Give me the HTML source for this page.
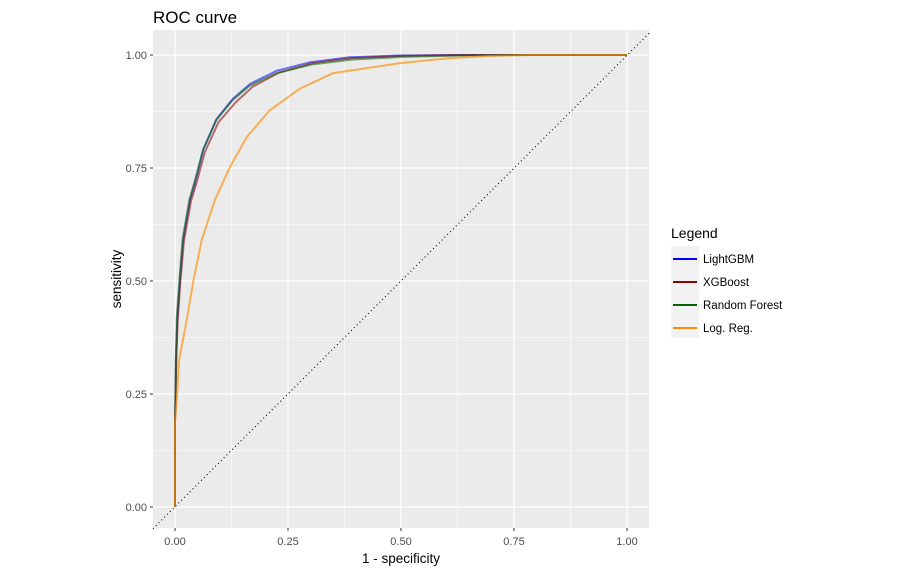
<!DOCTYPE html>
<html><head><meta charset="utf-8"><style>
body{margin:0;background:#fff;font-family:"Liberation Sans",Arial,sans-serif}
</style></head><body>
<svg width="899" height="574" font-family="Liberation Sans, Arial, sans-serif">
<text x="153" y="23" font-size="17" fill="#000">ROC curve</text>
<rect x="153" y="30" width="496" height="498" fill="#ebebeb"/>
<g id="grid"></g>
<g id="marks"></g>
<g id="axes"></g>
<text x="401" y="563" font-size="13.5" text-anchor="middle">1 - specificity</text>
<text transform="translate(121,279) rotate(-90)" font-size="13.5" text-anchor="middle">sensitivity</text>
<g>
<text x="671" y="238" font-size="14">Legend</text>
<rect x="671" y="246" width="28" height="92" fill="#f2f2f2"/>
<g id="legend"></g>
</g>
</svg>
<script>
const seriesNames=["LightGBM","XGBoost","Random Forest","Log. Reg."];
const seriesColors=["#0000ff","#8b0000","#006400","#ff8c00"];
const ticks=[0,0.25,0.5,0.75,1];
const tickLabels=["0.00","0.25","0.50","0.75","1.00"];
const fprLGB=[0,0,0.001,0.002,0.005,0.011,0.018,0.033,0.045,0.063,0.092,0.128,0.166,0.225,0.299,0.387,0.498,0.62,0.75,1];
const tprLGB=[0,0.19,0.237,0.325,0.414,0.502,0.59,0.679,0.72,0.792,0.858,0.903,0.936,0.965,0.984,0.995,0.999,1,1,1];
const fprXGB=[0,0,0.001,0.003,0.006,0.012,0.020,0.035,0.047,0.066,0.096,0.134,0.172,0.23,0.305,0.39,0.50,0.62,0.75,1];
const tprXGB=[0,0.19,0.237,0.325,0.414,0.502,0.59,0.675,0.715,0.785,0.851,0.895,0.93,0.961,0.982,0.993,0.998,1,1,1];
const fprRF=[0,0,0.001,0.002,0.004,0.010,0.017,0.032,0.044,0.062,0.091,0.127,0.165,0.226,0.302,0.393,0.51,0.64,0.78,1];
const tprRF=[0,0.19,0.24,0.33,0.42,0.505,0.595,0.68,0.722,0.79,0.856,0.9,0.932,0.96,0.979,0.99,0.996,0.999,1,1];
const fprLR=[0,0,0.004,0.009,0.026,0.041,0.059,0.088,0.122,0.159,0.210,0.277,0.350,0.498,0.608,0.70,0.78,1];
const tprLR=[0,0.19,0.237,0.325,0.414,0.502,0.59,0.679,0.753,0.819,0.878,0.926,0.960,0.982,0.993,0.998,1,1];
const xs=[fprLGB,fprXGB,fprRF,fprLR], ys=[tprLGB,tprXGB,tprRF,tprLR];
const NS="http://www.w3.org/2000/svg";
const X=v=>175+v*452, Y=v=>507-v*452;
function mk(t,a,p){const e=document.createElementNS(NS,t);for(const k in a)e.setAttribute(k,a[k]);p.appendChild(e);return e;}
const grid=document.getElementById('grid'),axes=document.getElementById('axes'),marks=document.getElementById('marks'),leg=document.getElementById('legend');
for(let i=0;i<ticks.length-1;i++){const m=(ticks[i]+ticks[i+1])/2;
 let g=mk('line',{x1:X(m),x2:X(m),y1:30,y2:528,stroke:'#fff','stroke-width':0.6},grid);
 g=mk('line',{x1:153,x2:649,y1:Y(m),y2:Y(m),stroke:'#fff','stroke-width':0.6},grid);}
ticks.forEach((t,i)=>{
 let g=mk('line',{x1:X(t),x2:X(t),y1:30,y2:528,stroke:'#fff','stroke-width':1.2},grid);
 g=mk('line',{x1:153,x2:649,y1:Y(t),y2:Y(t),stroke:'#fff','stroke-width':1.2},grid);
 let e=mk('line',{x1:X(t),x2:X(t),y1:528,y2:531,stroke:'#333'},axes);
 e=mk('text',{x:X(t),y:545,'font-size':11,'text-anchor':'middle',fill:'#4d4d4d'},axes);e.textContent=tickLabels[i];
 e=mk('line',{x1:150,x2:153,y1:Y(t),y2:Y(t),stroke:'#333'},axes);
 e=mk('text',{x:147,y:Y(t)+4,'font-size':11,'text-anchor':'end',fill:'#4d4d4d'},axes);e.textContent=tickLabels[i];
});
let d=mk('line',{x1:153,y1:Y(-0.048),x2:649,y2:Y(1.048),stroke:'#000','stroke-dasharray':'1,3','stroke-width':1.1},marks);

for(let s=0;s<4;s++){
 const pts=xs[s].map((v,i)=>X(v)+','+Y(ys[s][i])).join(' ');
 const p=mk('polyline',{points:pts,fill:'none',stroke:seriesColors[s],'stroke-opacity':s==3?0.65:0.55,'stroke-width':2},marks);
 
 
 const ly=259+s*23;
 const l=mk('line',{x1:673,x2:697,y1:ly,y2:ly,stroke:seriesColors[s],'stroke-width':2},leg);
 
 
 const t=mk('text',{x:703,y:ly+4,'font-size':11.5},leg);t.textContent=seriesNames[s];
 
 
}
</script>
</body></html>
